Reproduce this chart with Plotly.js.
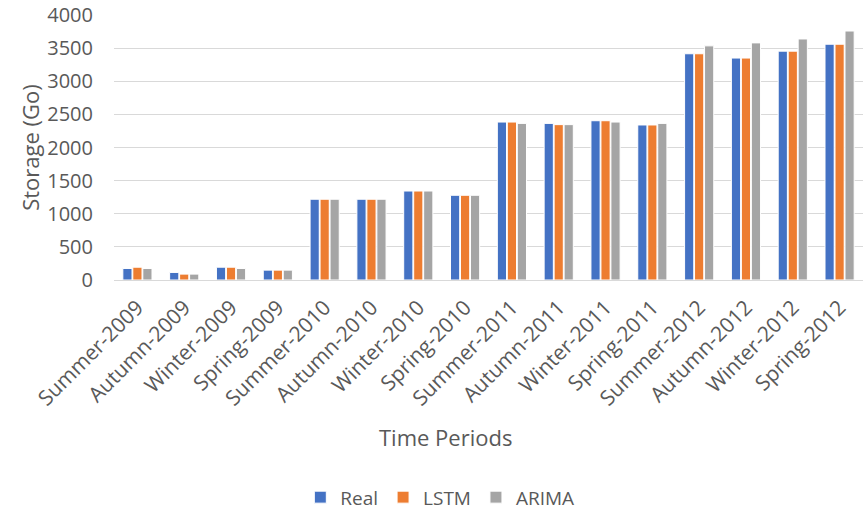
<!DOCTYPE html>
<html>
<head>
<meta charset="utf-8">
<script src="https://cdn.plot.ly/plotly-3.0.1.min.js"></script>
<style>html,body{margin:0;padding:0;background:#fff;}#chart{width:863px;height:517px;}</style>
</head>
<body>
<div id="chart"></div>
<script>
const periods = ["Summer-2009","Autumn-2009","Winter-2009","Spring-2009","Summer-2010","Autumn-2010","Winter-2010","Spring-2010","Summer-2011","Autumn-2011","Winter-2011","Spring-2011","Summer-2012","Autumn-2012","Winter-2012","Spring-2012"];
const realValues  = [174, 114, 193, 149, 1219, 1219, 1343, 1279, 2384, 2364, 2404, 2340, 3415, 3350, 3454, 3559];
const lstmValues  = [193,  89, 193, 149, 1219, 1219, 1343, 1279, 2384, 2345, 2404, 2340, 3415, 3350, 3454, 3559];
const arimaValues = [174,  89, 174, 149, 1219, 1219, 1343, 1279, 2364, 2345, 2384, 2364, 3534, 3579, 3638, 3758];
const yTicks = [0, 500, 1000, 1500, 2000, 2500, 3000, 3500, 4000];

const FONT = "Open Sans, Liberation Sans, sans-serif";
const TXT = "#595959";
function series(name, y, color) {
  return {type: "bar", name: name, x: periods, y: y,
          marker: {color: color, line: {color: "#ffffff", width: 1}}};
}
const data = [
  series("Real", realValues, "#4472C4"),
  series("LSTM", lstmValues, "#ED7D31"),
  series("ARIMA", arimaValues, "#A5A5A5")
];
const layout = {
  width: 863, height: 517,
  margin: {l: 114, r: 0, t: 15, b: 232},
  paper_bgcolor: "#ffffff", plot_bgcolor: "#ffffff",
  font: {family: FONT, color: TXT, size: 18},
  barmode: "group", bargap: 0.36, bargroupgap: 0.08,
  showlegend: true,
  legend: {orientation: "h", x: 0.435, xanchor: "center", y: -0.82, yanchor: "middle",
           font: {family: FONT, size: 19, color: TXT}, itemwidth: 30, traceorder: "normal"},
  xaxis: {type: "category", tickangle: -45, showgrid: false, showline: true,
          linecolor: "#D9D9D9", linewidth: 1, ticks: "", ticklabelstandoff: 6,
          tickfont: {family: FONT, size: 21, color: TXT}},
  yaxis: {range: [0, 4000], tickvals: yTicks, showgrid: true, gridcolor: "#D9D9D9",
          gridwidth: 1, zeroline: false, showline: false, ticks: "",
          ticklabelstandoff: 20,
          tickfont: {family: FONT, size: 20, color: TXT},
          title: {text: "Storage (Go)", font: {family: FONT, size: 22, color: TXT}, standoff: 1}},
  annotations: [{text: "Time Periods", xref: "paper", yref: "paper",
                 x: 0.442, y: -0.594, xanchor: "center", yanchor: "middle",
                 showarrow: false, font: {family: FONT, size: 22, color: TXT}}]
};
Plotly.newPlot("chart", data, layout, {displayModeBar: false, staticPlot: true});
</script>
</body>
</html>
